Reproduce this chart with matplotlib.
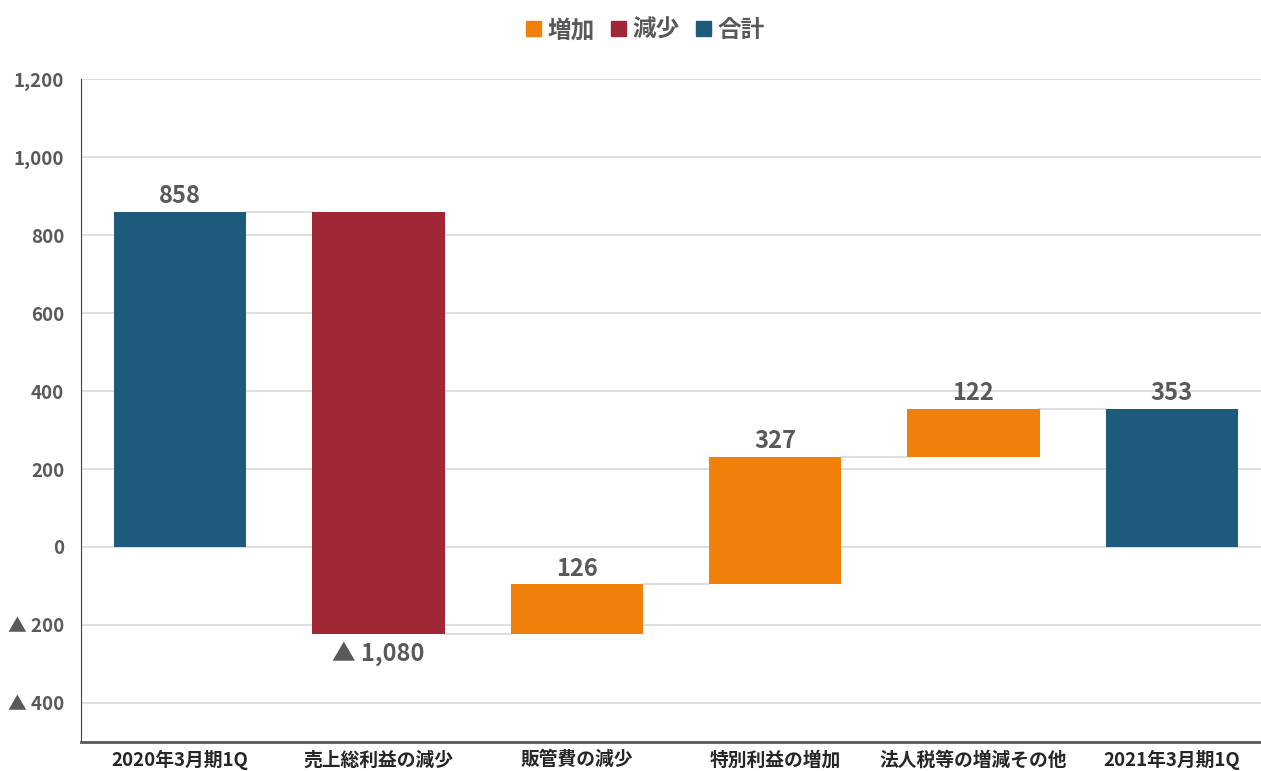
import numpy as np
import matplotlib.pyplot as plt
from matplotlib.patches import Patch

plt.rcParams['font.family'] = ['Noto Sans CJK JP', 'DejaVu Sans']

# データ
categories = ['2020年3月期1Q', '売上総利益の減少', '販管費の減少',
              '特別利益の増加', '法人税等の増減その他', '2021年3月期1Q']
values = [858, -1080, 126, 327, 122, 353]
kinds = ['合計', '減少', '増加', '増加', '増加', '合計']
colors = {'増加': '#F0800A', '減少': '#A02735', '合計': '#1D5A7C'}
yticks = [-400, -200, 0, 200, 400, 600, 800, 1000, 1200]

# 積み上げの下端と上端を計算
bottoms = []
tops = []
running = 0
for v, k in zip(values, kinds):
    if k == '合計':
        bottoms.append(0)
        tops.append(v)
        running = v
    else:
        bottoms.append(min(running, running + v))
        tops.append(max(running, running + v))
        running = running + v

fig = plt.figure(figsize=(12.61, 7.71), dpi=100)
ax = fig.add_axes([81 / 1261, 1 - 742 / 771, (1261 - 81) / 1261, (742 - 79) / 771])

x = np.arange(len(categories))
heights = [t - b for t, b in zip(tops, bottoms)]
ax.bar(x, heights, bottom=bottoms, width=0.667,
       color=[colors[k] for k in kinds], zorder=3)

# 接続線
levels = np.cumsum([values[0]] + values[1:5])
for i in range(len(categories) - 1):
    lvl = levels[i]
    ax.plot([x[i] + 0.333, x[i + 1] - 0.333], [lvl, lvl],
            color='#D9D9D9', lw=1.2, zorder=2)

# 値ラベル
for i, (v, k) in enumerate(zip(values, kinds)):
    if v < 0:
        ax.text(x[i], bottoms[i] - 20, '▲ {:,}'.format(abs(v)), ha='center', va='top',
                fontsize=17, fontweight='bold', color='#595959')
    else:
        ax.text(x[i], tops[i] + 10, '{:,}'.format(abs(v)), ha='center', va='bottom',
                fontsize=17, fontweight='bold', color='#595959')

ax.set_xlim(-0.5, 5.45)
ax.set_ylim(-500, 1200)
ax.set_yticks(yticks)
ax.set_yticklabels([('▲ {:,}'.format(abs(t)) if t < 0 else '{:,}'.format(t)) for t in yticks])
ax.set_xticks(x)
ax.set_xticklabels(categories)
ax.tick_params(axis='both', length=0, labelcolor='#404040')
ax.tick_params(axis='y', labelsize=13.5, pad=12)
ax.tick_params(axis='x', labelsize=13.5, pad=6)
for lab in ax.get_xticklabels() + ax.get_yticklabels():
    lab.set_fontweight('bold')
for lab in ax.get_yticklabels():
    lab.set_color('#595959')
for lab in ax.get_xticklabels():
    lab.set_color('#262626')

ax.grid(axis='y', color='#D9D9D9', lw=1.2, zorder=0)
ax.set_axisbelow(True)
for s in ['top', 'right']:
    ax.spines[s].set_visible(False)
ax.spines['left'].set_color('#404040')
ax.spines['bottom'].set_color('#595959')
ax.spines['bottom'].set_linewidth(2)

handles = [Patch(color=colors[k]) for k in ['増加', '減少', '合計']]
fig.legend(handles, ['増加', '減少', '合計'], loc='center', bbox_to_anchor=(0.512, 1 - 30 / 771),
           ncol=3, frameon=False, handlelength=0.6, handleheight=0.6, handletextpad=0.3,
           columnspacing=0.7, prop={'size': 17, 'weight': 'bold'}, labelcolor='#595959')

fig.savefig('out.png', dpi=100)
